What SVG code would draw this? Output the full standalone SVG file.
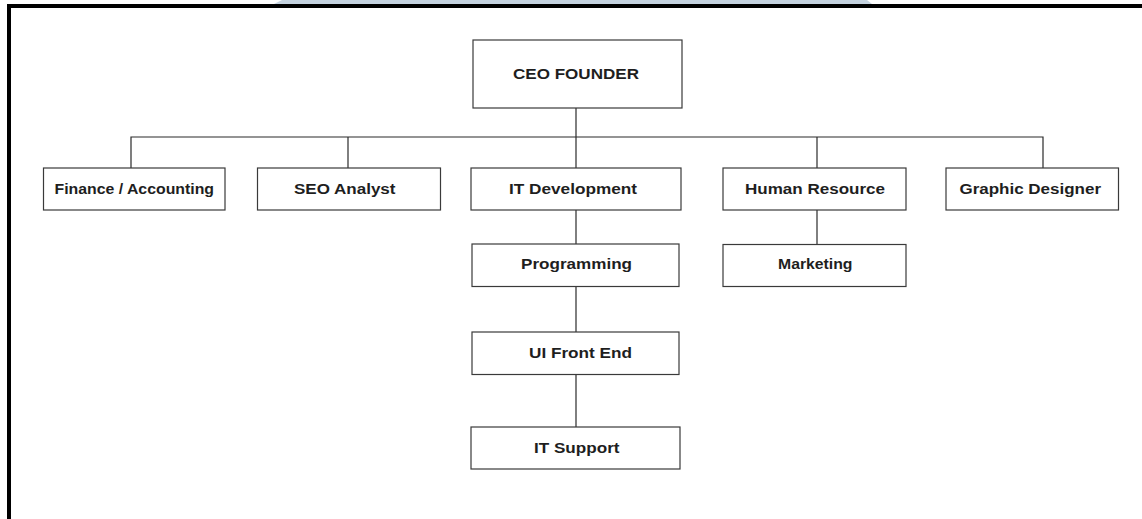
<svg xmlns="http://www.w3.org/2000/svg" width="1142" height="519" viewBox="0 0 1142 519">
<style>
.box{fill:#fff;stroke:#3a3a3a;stroke-width:1.2}
.lbl{font-family:"Liberation Sans",Arial,sans-serif;font-weight:bold;font-size:14px;fill:#1e1e1e}
.conn{stroke:#2a2a2a;stroke-width:1.2;fill:none}
</style>
<rect width="1142" height="519" fill="#fff"/>
<polygon points="282,0 867,0 872,4 274,4" fill="#c4d2df"/>
<path d="M9,519 V6 H1142" fill="none" stroke="#000" stroke-width="4"/>
<g id="connectors">
<path class="conn" d="M576,108 V168"/>
<path class="conn" d="M131,168 V137 H1043 V168"/>
<path class="conn" d="M348,137 V168"/>
<path class="conn" d="M817,137 V168"/>
<path class="conn" d="M817,210 V244"/>
<path class="conn" d="M576,210 V244"/>
<path class="conn" d="M576,287 V332"/>
<path class="conn" d="M576,374 V427"/>
</g>
<g id="ceo"><rect class="box" x="473" y="40" width="209" height="68"/><text class="lbl" x="513" y="79" textLength="126" lengthAdjust="spacingAndGlyphs">CEO FOUNDER</text></g>
<g id="finance"><rect class="box" x="43.5" y="168" width="181.5" height="42"/><text class="lbl" x="54.5" y="194" textLength="159.5" lengthAdjust="spacingAndGlyphs">Finance / Accounting</text></g>
<g id="seo"><rect class="box" x="257.5" y="168" width="183" height="42"/><text class="lbl" x="294" y="194" textLength="101.5" lengthAdjust="spacingAndGlyphs">SEO Analyst</text></g>
<g id="itdev"><rect class="box" x="471" y="168" width="210" height="42"/><text class="lbl" x="509" y="194" textLength="128" lengthAdjust="spacingAndGlyphs">IT Development</text></g>
<g id="hr"><rect class="box" x="723" y="168" width="183" height="42"/><text class="lbl" x="745" y="194" textLength="140" lengthAdjust="spacingAndGlyphs">Human Resource</text></g>
<g id="graphic"><rect class="box" x="946" y="168" width="172.5" height="42"/><text class="lbl" x="959.5" y="194" textLength="141.5" lengthAdjust="spacingAndGlyphs">Graphic Designer</text></g>
<g id="marketing"><rect class="box" x="723" y="244.5" width="183" height="42"/><text class="lbl" x="778" y="269" textLength="74.5" lengthAdjust="spacingAndGlyphs">Marketing</text></g>
<g id="programming"><rect class="box" x="472" y="244" width="207" height="42.5"/><text class="lbl" x="521" y="269" textLength="111" lengthAdjust="spacingAndGlyphs">Programming</text></g>
<g id="uifront"><rect class="box" x="472" y="332" width="207" height="42.5"/><text class="lbl" x="529" y="358" textLength="103" lengthAdjust="spacingAndGlyphs">UI Front End</text></g>
<g id="itsupport"><rect class="box" x="471" y="427" width="209" height="42"/><text class="lbl" x="534" y="453" textLength="85.5" lengthAdjust="spacingAndGlyphs">IT Support</text></g>
</svg>
